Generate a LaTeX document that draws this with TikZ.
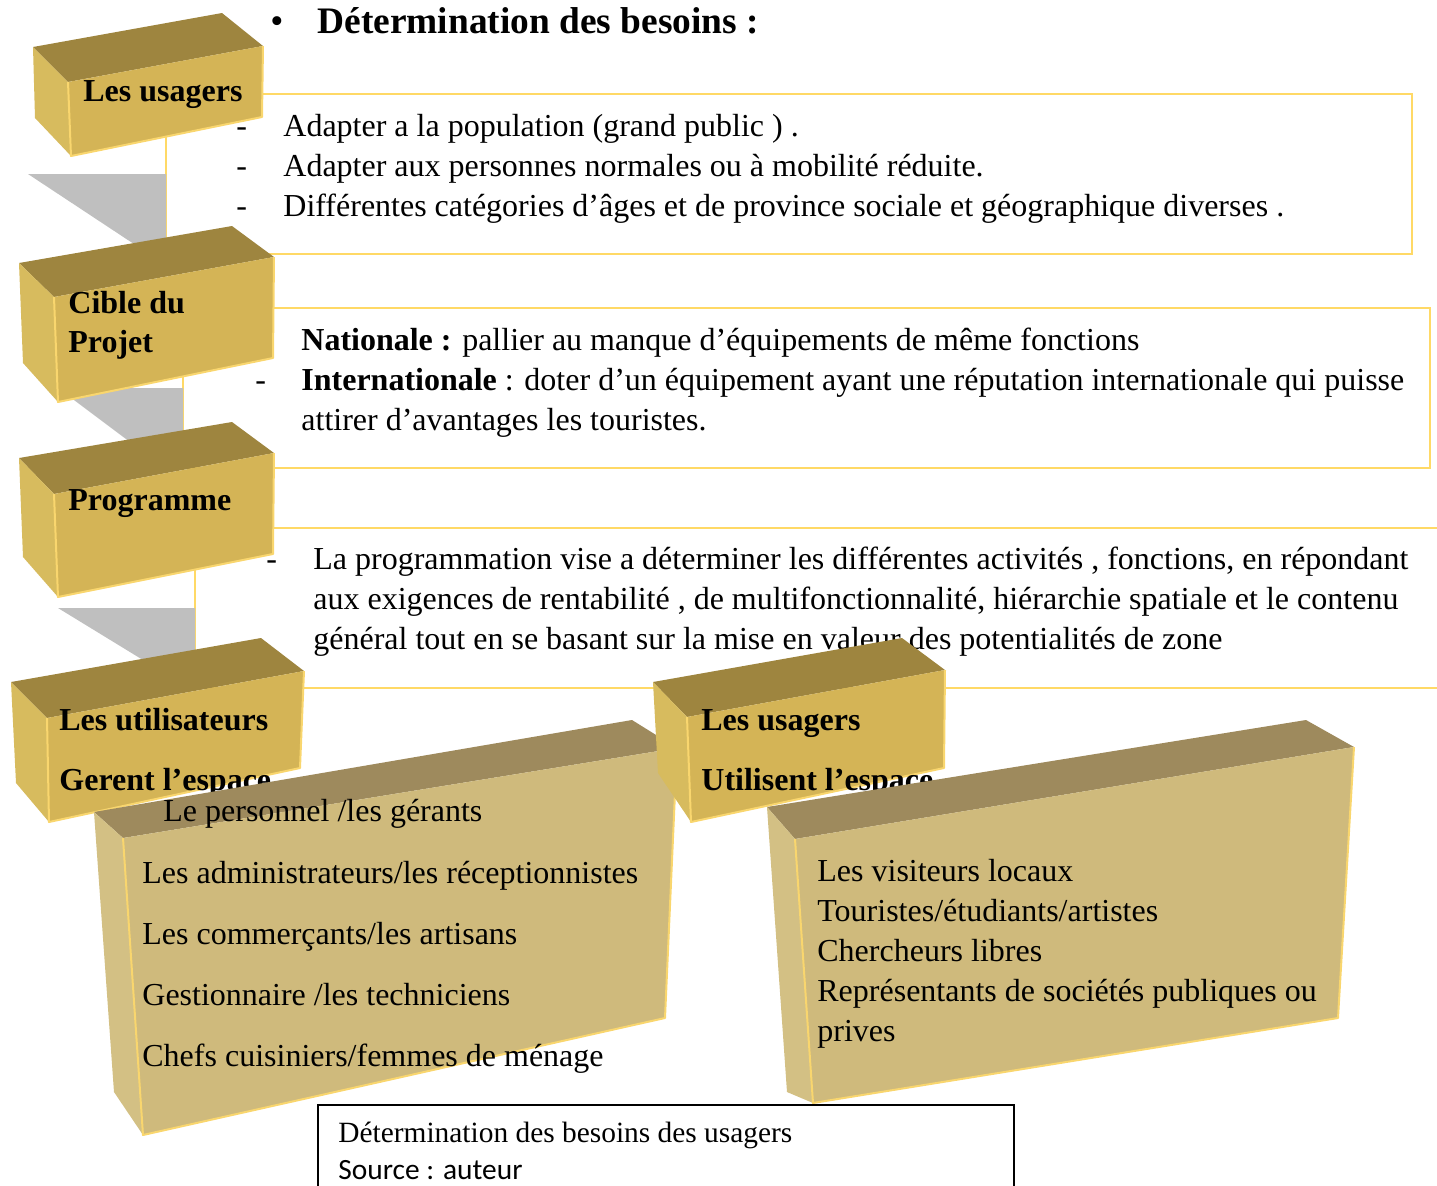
\documentclass[tikz,border=0pt]{standalone}
\usepackage{fontspec}
\setmainfont{Liberation Serif}
\newfontfamily\capsans{Carlito}
\usepackage{xcolor}

\definecolor{goldtop}{HTML}{9E853F}
\definecolor{goldfront}{HTML}{D4B456}
\definecolor{goldside}{HTML}{D7BB5E}
\definecolor{sandtop}{HTML}{9E8A5D}
\definecolor{sandfront}{HTML}{CFBA7C}
\definecolor{sandside}{HTML}{D3C084}
\definecolor{framey}{HTML}{FFD966}
\definecolor{edgey}{HTML}{F9D66E}
\definecolor{ribbon}{HTML}{BFBFBF}

% seven corners of a box: back-left, back-right, front-right, front-left (top),
% front-left bottom, back-left bottom, front-right bottom
\newcommand{\cubeat}[8]{%
  \coordinate (#1-bl) at (#2);
  \coordinate (#1-br) at (#3);
  \coordinate (#1-fr) at (#4);
  \coordinate (#1-fl) at (#5);
  \coordinate (#1-fb) at (#6);
  \coordinate (#1-bb) at (#7);
  \coordinate (#1-rb) at (#8);
}
\newcommand{\drawcube}[4]{%
  \fill[#2] (#1-bl) -- (#1-br) -- (#1-fr) -- (#1-fl) -- cycle;
  \fill[#4] (#1-bl) -- (#1-fl) -- (#1-fb) -- (#1-bb) -- cycle;
  \fill[#3] (#1-fl) -- (#1-fr) -- (#1-rb) -- (#1-fb) -- cycle;
  \draw[boxedge] (#1-fl) -- (#1-fb) -- (#1-rb) -- (#1-fr);
}

\begin{document}
\begin{tikzpicture}[
        x=0.5pt, y=-0.5pt,
        txt/.style={anchor=base west, inner sep=0pt, yshift=-1pt, font=\fontsize{16}{20}\selectfont},
        lbl/.style={txt, font=\fontsize{16}{20}\selectfont\bfseries},
        captxt/.style={anchor=base west, inner sep=0pt, yshift=-0.5pt, font=\fontsize{14.7}{18}\selectfont},
        framebox/.style={draw=framey, line width=1pt},
        boxedge/.style={draw=edgey, line width=1pt, line join=round},
    ]
    \clip (0,0) rectangle (1437,1185);

    %% Frames behind the boxes
    \draw[framebox] (166,94) rectangle (1412,254);
    \draw[framebox] (183,308) rectangle (1430,468);
    \draw[framebox] (195,528) rectangle (1460,688);

    %% Grey ribbons between the boxes
    \fill[ribbon] (28,174) -- (166,174) -- (166,245) -- (140,248) -- cycle;
    \fill[ribbon] (58,388) -- (183,388) -- (183,435) -- (130,442) -- cycle;
    \fill[ribbon] (58,608) -- (195,608) -- (195,650) -- (143,660) -- cycle;

    %% Title
    \node[txt, font=\fontsize{18.7}{22}\selectfont] (bullet) at (270,31) {•};
    \node[lbl, font=\fontsize{18.7}{22}\selectfont\bfseries] (title) at (317,31) {Détermination des besoins :};

    %% Frame texts
    \foreach \t [count=\i] in {
        {Adapter a la population (grand public ) .},
        {Adapter aux personnes normales ou à mobilité réduite.},
        {Différentes catégories d’âges et de province sociale et géographique diverses .}} {
        \node[txt] (dasha\i) at (236,{94+40*\i}) {-};
        \node[txt] (needa\i) at (283,{94+40*\i}) {\t};
    }
    \node[txt] (needb1) at (301,348) {\textbf{Nationale :} pallier au manque d’équipements de même fonctions};
    \node[txt] (dashb2) at (255,388) {-};
    \node[txt] (needb2) at (301,388) {\textbf{Internationale} : doter d’un équipement ayant une réputation internationale qui puisse};
    \node[txt] (needb3) at (301,428) {attirer d’avantages les touristes.};
    \node[txt] (dashc1) at (266,567) {-};
    \node[txt] (needc1) at (313,567) {La programmation vise a déterminer les différentes activités , fonctions, en répondant};
    \node[txt] (needc2) at (313,607) {aux exigences de rentabilité , de multifonctionnalité, hiérarchie spatiale et le contenu};
    \node[txt] (needc3) at (313,647) {général tout en se basant sur la mise en valeur des potentialités de zone};

    %% Boxes of the left column
    \cubeat{usa}{33,47}{222,13}{263,46}{68,82}{71,156}{35,118}{262,117}
    \drawcube{usa}{goldtop}{goldfront}{goldside}
    \node[lbl] (usagers) at (83,99) {Les usagers};

    \cubeat{cib}{19,263}{232,226}{274,257}{54,297}{58,402}{23,363}{273,358}
    \drawcube{cib}{goldtop}{goldfront}{goldside}
    \node[lbl] (cible1) at (68,311) {Cible du};
    \node[lbl] (cible2) at (68,350) {Projet};

    \cubeat{prg}{19,458}{232,422}{274,453}{54,494}{58,597}{23,557}{273,554}
    \drawcube{prg}{goldtop}{goldfront}{goldside}
    \node[lbl] (programme) at (68,508) {Programme};

    %% Users who manage the space
    \cubeat{uti}{11,682}{261,638}{304,671}{47,718}{49,822}{16,783}{300,768}
    \drawcube{uti}{goldtop}{goldfront}{goldside}
    \node[lbl] (utilisateurs) at (59,728) {Les utilisateurs};
    \node[lbl] (gerent) at (59,788) {Gerent l’espace};

    \cubeat{gst}{94,812}{632,720}{677,748}{123,838}{143,1135}{114,1092}{665,1018}
    \drawcube{gst}{sandtop}{sandfront}{sandside}
    \node[txt] (gst0) at (163,819) {Le personnel /les gérants};
    \foreach \t [count=\i] in {
        {Les administrateurs/les réceptionnistes},
        {Les commerçants/les artisans},
        {Gestionnaire /les techniciens},
        {Chefs cuisiniers/femmes de ménage}} {
        \node[txt] (gst\i) at (142,{820+61*\i}) {\t};
    }

    %% Users who use the space
    \cubeat{usb}{653,682}{902,638}{945,670}{687,717}{691,822}{658,773}{944,768}
    \drawcube{usb}{goldtop}{goldfront}{goldside}
    \node[lbl] (usagers2) at (701,728) {Les usagers};
    \node[lbl] (utilisent) at (701,788) {Utilisent l’espace};

    \cubeat{vis}{767,807}{1306,720}{1354,747}{795,839}{813,1103}{787,1092}{1338,1018}
    \drawcube{vis}{sandtop}{sandfront}{sandside}
    \foreach \t [count=\i] in {
        {Les visiteurs locaux},
        {Touristes/étudiants/artistes},
        {Chercheurs libres},
        {Représentants de sociétés publiques ou},
        {prives}} {
        \node[txt] (vis\i) at (817,{839+40*\i}) {\t};
    }

    %% Caption
    \draw[fill=white, line width=1pt] (318,1105) rectangle (1014,1200);
    \node[captxt] (caption) at (338,1141) {Détermination des besoins des usagers};
    \node[captxt, font=\fontsize{14.7}{18}\capsans] (source) at (338,1178) {Source : auteur};
\end{tikzpicture}
\end{document}
